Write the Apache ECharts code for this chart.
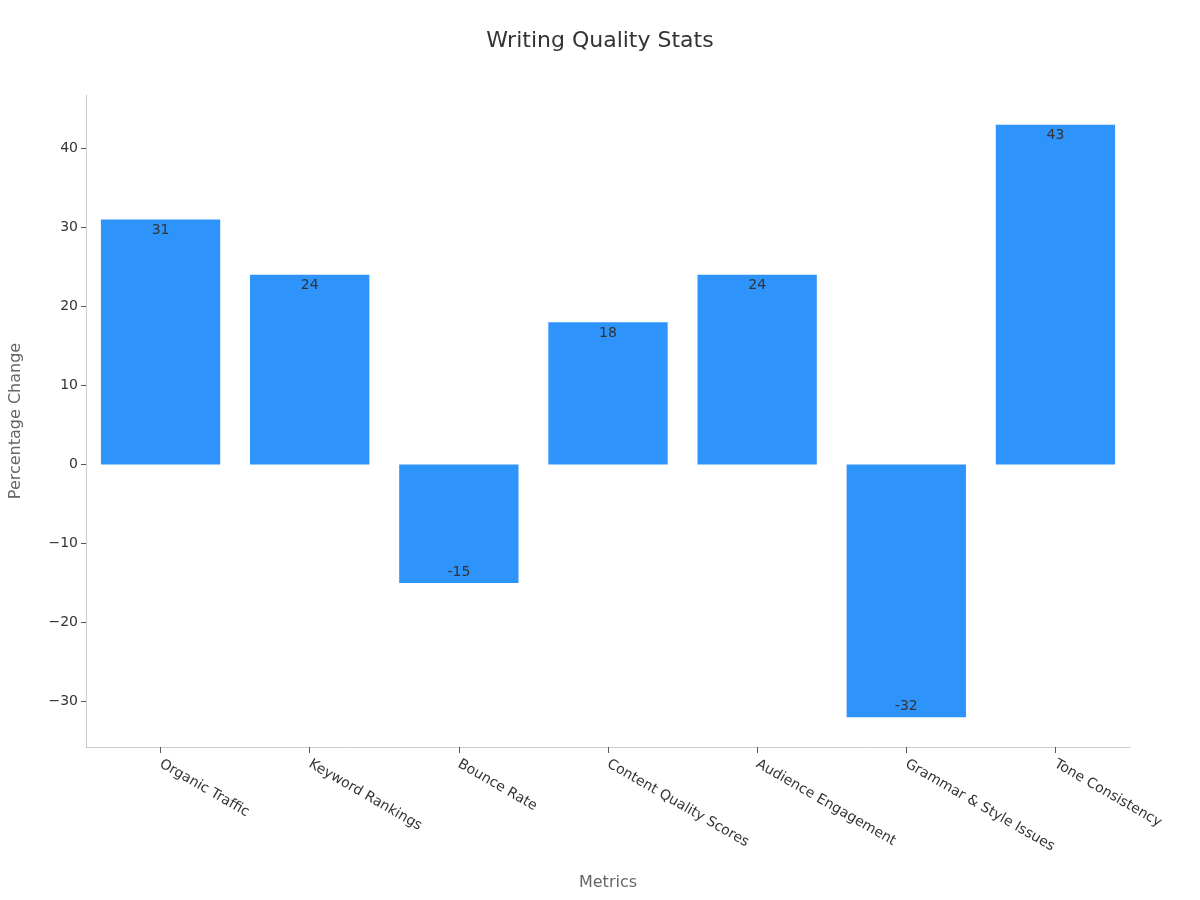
<!DOCTYPE html>
<html lang="en">
<head>
<meta charset="UTF-8">
<title>Writing Quality Stats</title>
<script src="https://cdn.jsdelivr.net/npm/echarts@6/dist/echarts.min.js"></script>
</head>
<body style="margin:0">
<div id="main" style="width:1200px;height:900px;"></div>
<script>
var categories = ['Organic Traffic', 'Keyword Rankings', 'Bounce Rate', 'Content Quality Scores',
    'Audience Engagement', 'Grammar & Style Issues', 'Tone Consistency'];
var values = [31, 24, -15, 18, 24, -32, 43];
var yTicks = [-30, -20, -10, 0, 10, 20, 30, 40];

var chart = echarts.init(document.getElementById('main'));
var font = 'DejaVu Sans';
chart.setOption({
    textStyle: {fontFamily: font},
    title: {
        text: 'Writing Quality Stats', left: 'center', top: 25,
        textStyle: {fontSize: 22, fontWeight: 'normal', color: '#333', fontFamily: font}
    },
    grid: {left: 83, right: 70, top: 95, bottom: 153},
    xAxis: {
        type: 'category',
        data: categories,
        name: 'Metrics', nameLocation: 'middle', nameGap: 128,
        nameTextStyle: {fontSize: 16, color: '#666'},
        axisLine: {onZero: false, lineStyle: {color: '#ccc'}},
        axisTick: {show: true, alignWithLabel: true, interval: 0, length: 6, lineStyle: {color: '#555'}},
        axisLabel: {interval: 0, rotate: -30, color: '#333', fontSize: 14, margin: 16, align: 'left'}
    },
    yAxis: {
        type: 'value',
        min: -35.75, max: 46.75,
        name: 'Percentage Change', nameLocation: 'middle', nameGap: 62,
        nameTextStyle: {fontSize: 16, color: '#666'},
        axisLine: {show: true, lineStyle: {color: '#ccc'}},
        axisTick: {show: true, customValues: yTicks, lineStyle: {color: '#555'}},
        axisLabel: {
            color: '#333', fontSize: 14,
            customValues: yTicks,
            formatter: function (v) { return v < 0 ? '\u2212' + (-v) : String(v); }
        },
        splitLine: {show: false}
    },
    series: [{
        type: 'bar',
        barWidth: '80%',
        data: values.map(function (v) {
            return {value: v, label: {position: v >= 0 ? 'insideTop' : 'insideBottom'}};
        }),
        itemStyle: {color: '#2e93fa'},
        label: {show: true, color: '#333', fontSize: 14, distance: 4}
    }]
});
</script>
</body>
</html>
